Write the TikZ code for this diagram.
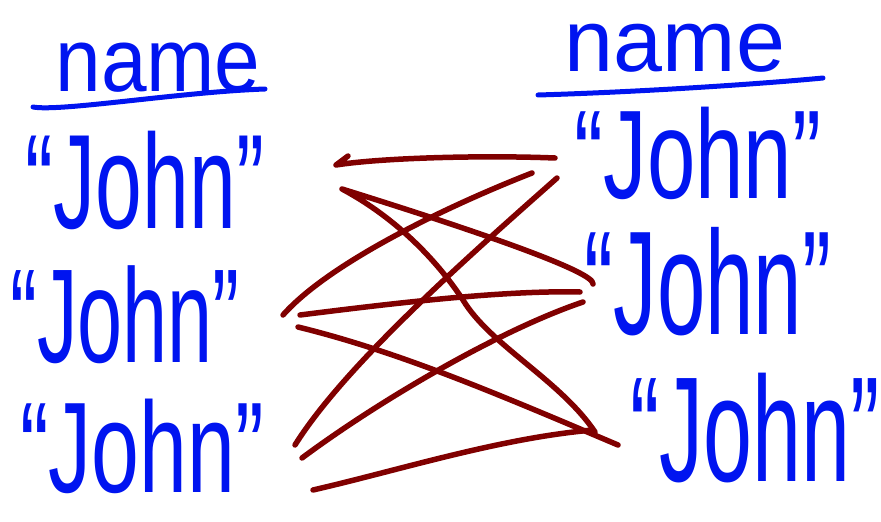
\documentclass[tikz,border=0pt]{standalone}
\usepackage{fontspec}
\setmainfont{Liberation Sans}
\definecolor{ink}{RGB}{0,20,240}
\definecolor{wire}{RGB}{128,0,0}
\begin{document}
\begin{tikzpicture}[x=1pt,y=-1pt,
  lbl/.style={text=ink,inner sep=0pt,anchor=center},
  ul/.style={draw=ink,line width=5pt,line cap=round},
  wirel/.style={draw=wire,line width=5.5pt,line cap=round,line join=round}]
\useasboundingbox (0,0) rectangle (881,522);
% left column
\node[lbl,font=\fontsize{82}{82}\selectfont] (lname) at (158,68) {\scalebox{1}[1.1]{name}};
\node[lbl,font=\fontsize{84}{84}\selectfont] (l1) at (145,180) {\scalebox{1}[1.6]{“John”}};
\node[lbl,font=\fontsize{81}{81}\selectfont] (l2) at (125,315) {\scalebox{1}[1.65]{“John”}};
\node[lbl,font=\fontsize{86}{86}\selectfont] (l3) at (142,446) {\scalebox{1}[1.5]{“John”}};
% right column
\node[lbl,font=\fontsize{88}{88}\selectfont] (rname) at (675,48) {\scalebox{1}[1.0]{name}};
\node[lbl,font=\fontsize{87}{87}\selectfont] (r1) at (698,153) {\scalebox{1}[1.45]{“John”}};
\node[lbl,font=\fontsize{87}{87}\selectfont] (r2) at (708,282) {\scalebox{1}[1.7]{“John”}};
\node[lbl,font=\fontsize{88}{88}\selectfont] (r3) at (755,428) {\scalebox{1}[1.7]{“John”}};
% underlines
\coordinate (lu1) at (33,107); \coordinate (lu2) at (265,89);
\coordinate (ru1) at (538,95); \coordinate (ru2) at (823,78);
\draw[ul] (lu1) .. controls (60,112) and (180,92) .. (lu2);
\draw[ul] (ru1) .. controls (640,92) and (760,84) .. (ru2);
% connector coordinates
\coordinate (a1) at (555,158); \coordinate (a2) at (336,165); \coordinate (a3) at (348,156);
\coordinate (b1) at (532,173); \coordinate (b2) at (283,315);
\coordinate (c1) at (557,178); \coordinate (c2) at (295,445);
\coordinate (d0) at (593,284); \coordinate (d1) at (342,189); \coordinate (d2) at (595,432);
\coordinate (e1) at (580,292); \coordinate (e2) at (300,315);
\coordinate (f1) at (583,302); \coordinate (f2) at (302,458);
\coordinate (g1) at (298,327); \coordinate (g2) at (618,445);
\coordinate (h1) at (313,490); \coordinate (h2) at (593,430);
% connectors
\draw[wirel] (a1) .. controls (480,155) and (380,158) .. (a2) -- (a3);
\draw[wirel] (b1) .. controls (450,205) and (330,262) .. (b2);
\draw[wirel] (c1) .. controls (470,255) and (345,365) .. (c2);
\draw[wirel] (d0) .. controls (595,272) and (480,232) .. (d1)
  .. controls (400,220) and (440,265) .. (463,300)
  .. controls (490,345) and (560,380) .. (d2);
\draw[wirel] (e1) .. controls (500,290) and (380,305) .. (e2);
\draw[wirel] (f1) .. controls (500,330) and (380,400) .. (f2);
\draw[wirel] (g1) .. controls (400,352) and (500,395) .. (g2);
\draw[wirel] (h1) .. controls (400,470) and (500,438) .. (h2);
\end{tikzpicture}
\end{document}
